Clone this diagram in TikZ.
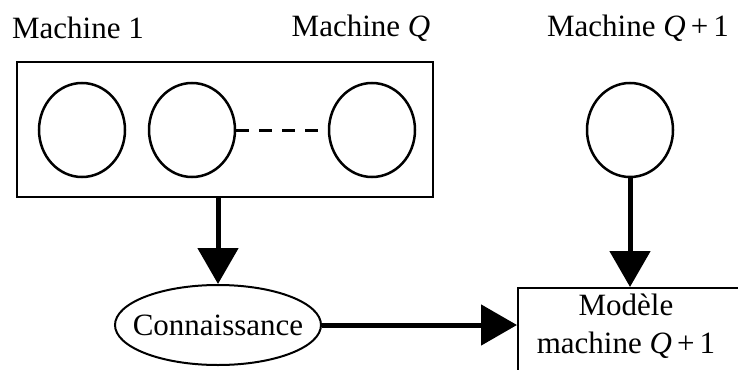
\documentclass[tikz,border=0pt]{standalone}
\usepackage{fontspec}
\setmainfont{Liberation Serif}
\usetikzlibrary{arrows.meta,shapes.geometric}
\begin{document}
\begin{tikzpicture}[x=1pt,y=-1pt,
  lbl/.style={font=\fontsize{31}{35}\selectfont, inner sep=0pt},
  mcirc/.style={draw, ellipse, line width=2.5pt, minimum width=86pt, minimum height=94pt, inner sep=0pt},
  bigarrow/.style={line width=5pt, -{Triangle[length=36pt,width=40pt]}, shorten >=0pt},
  boxstyle/.style={draw, line width=2pt, inner sep=0pt}]
\useasboundingbox (0,0) rectangle (738,369);
\node[lbl] (t1) at (78,28) {Machine 1};
\node[lbl] (tq) at (361,28) {Machine \textit{Q}};
\node[lbl] (tq1) at (638,28) {Machine \textit{Q}\,+\,1};
\node[boxstyle, minimum width=416pt, minimum height=135pt] (grp) at (225,129.5) {};
\node[mcirc] (c1) at (82,130) {};
\node[mcirc] (c2) at (192,130) {};
\node[mcirc] (c3) at (372,130) {};
\node[mcirc] (c4) at (630,130) {};
\draw[line width=3pt, dash pattern=on 13pt off 10pt] (c2.east) -- (c3.west);
\node[draw, ellipse, line width=2pt, minimum width=206pt, minimum height=80pt,
      inner xsep=-15pt, inner ysep=0pt,
      font=\fontsize{31}{35}\selectfont] (con) at (218,325) {Connaissance};
\node[boxstyle, minimum width=228pt, minimum height=100pt, anchor=north west] (mod) at (517,287) {};
\node[align=center, inner sep=0pt, font=\fontsize{31}{38}\selectfont] (modtxt) at (626,326)
      {Modèle\\ machine \textit{Q}\,+\,1};
\draw[bigarrow] (grp.south -| con.north) -- (con.north);
\draw[bigarrow] (c4.south) -- (c4.south |- mod.north);
\draw[bigarrow] (con.east) -- (con.east -| mod.west);
\end{tikzpicture}
\end{document}
